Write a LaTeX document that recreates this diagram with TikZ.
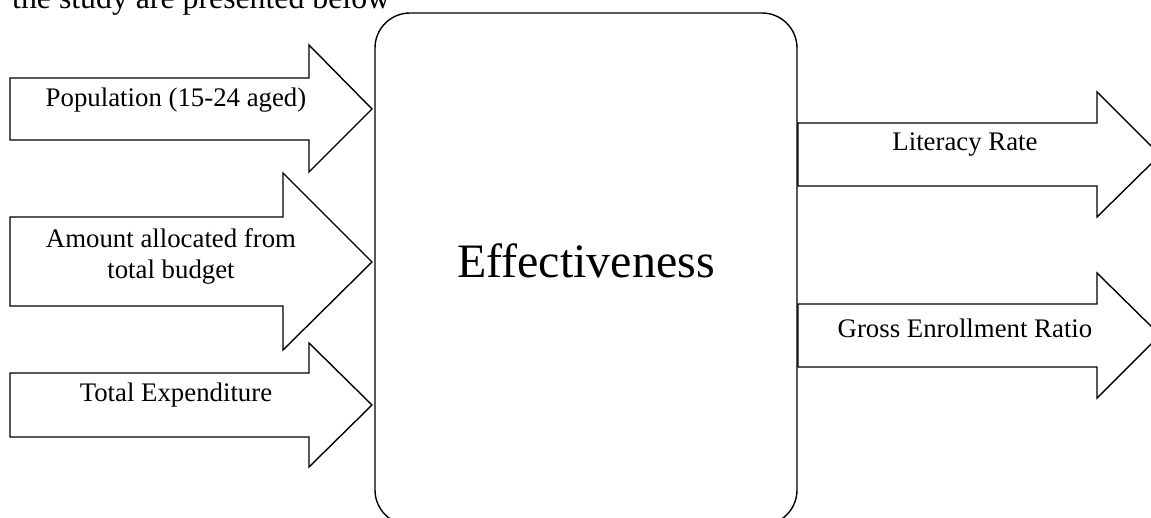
\documentclass[tikz,border=0pt]{standalone}
\usepackage{fontspec}
\setmainfont{Liberation Serif}
\begin{document}
\begin{tikzpicture}[x=1pt,y=-1pt,
  shapeline/.style={draw=black,line width=1.4pt,line join=miter},
  lbl/.style={font=\fontsize{26.8}{31}\selectfont,align=center,inner sep=0pt},
  big/.style={font=\fontsize{48}{56}\selectfont,inner sep=0pt}]
\useasboundingbox (0,0) rectangle (1151,518);
% cut-off line of body text at the top
\node[anchor=base west,inner sep=0pt,font=\fontsize{31.8}{36}\selectfont] (body) at (12,9) {the study are presented below};
% central box
\draw[shapeline,rounded corners=35pt] (375,13) rectangle (797,525);
\node[big] (eff) at (586,261) {Effectiveness};
% input arrows
\draw[shapeline] (10,78) -- (309,78) -- (309,45) -- (372,109) -- (309,172) -- (309,140) -- (10,140) -- cycle;
\node[lbl] (pop) at (176,100) {Population (15-24 aged)};
\draw[shapeline] (10,217) -- (283,217) -- (283,173) -- (372,262) -- (283,350) -- (283,306) -- (10,306) -- cycle;
\node[lbl] (amt) at (171,256) {Amount allocated from\\total budget};
\draw[shapeline] (10,373) -- (309,373) -- (309,343) -- (372,405) -- (309,467) -- (309,437) -- (10,437) -- cycle;
\node[lbl] (exp) at (176,395) {Total Expenditure};
% output arrows
\draw[shapeline] (798,123) -- (1097,123) -- (1097,92) -- (1160,155) -- (1097,217) -- (1097,186) -- (798,186) -- cycle;
\node[lbl] (lit) at (965,145) {Literacy Rate};
\draw[shapeline] (798,304) -- (1097,304) -- (1097,273) -- (1160,335) -- (1097,398) -- (1097,367) -- (798,367) -- cycle;
\node[lbl] (ger) at (965,328) {Gross Enrollment Ratio};
\end{tikzpicture}
\end{document}
